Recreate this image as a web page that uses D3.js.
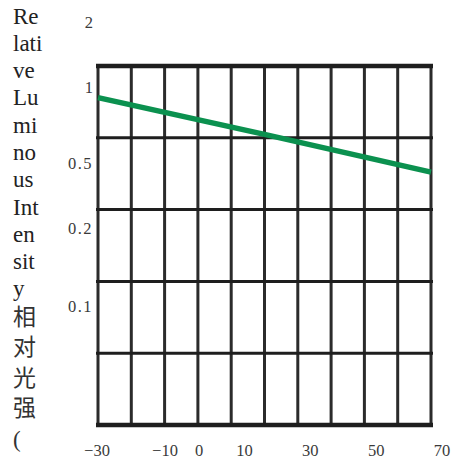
<!DOCTYPE html>
<html>
<head>
<meta charset="utf-8">
<script src="https://cdn.jsdelivr.net/npm/d3@7"></script>
<style>
  html, body { margin: 0; padding: 0; background: #fff; }
  #wrap { position: relative; width: 452px; height: 459px; overflow: hidden; }
  #title {
    position: absolute; left: 13px; top: 2.5px; width: 30px;
    font-family: "Times New Roman", "Liberation Serif", "DejaVu Serif", "Noto Sans CJK SC", serif;
    font-size: 23px; line-height: 27.3px; color: #222;
    word-break: break-all;
  }
  #title .cjk { line-height: 30.5px; color: #333; }
  svg { position: absolute; left: 0; top: 0; }
</style>
</head>
<body>
<div id="wrap">
  <div id="title">Relative Luminous Intensity <span class="cjk">相对光强(</span></div>
</div>
<script>
// axis labels and data
var yTickValues = [2, 1, 0.5, 0.2, 0.1];
var xTickValues = [-30, -10, 0, 10, 30, 50, 70];
var xGridValues = [-30, -20, -10, 0, 10, 20, 30, 40, 50, 60, 70];
var gridRows = [0, 1, 2, 3, 4, 5];

var temperature = [-30, 20, 70];
var intensity = [0.91, 0.65, 0.44];

var width = 452, height = 459;
var plotLeft = 98, plotRight = 431, plotTop = 66, plotBottom = 425;
var tickFont = "'Times New Roman', 'Liberation Serif', 'DejaVu Serif', serif";

var svg = d3.select("#wrap").append("svg")
    .attr("width", width)
    .attr("height", height);

var x = d3.scaleLinear().domain([-30, 70]).range([plotLeft, plotRight]);
// labels in the source sit a bit off the grid, so they get their own scale
var xLab = d3.scaleLinear().domain([-30, 0, 10, 70]).range([97, 199, 244.5, 442]);
var y = d3.scaleLog().domain(yTickValues).range([22.7, 87.3, 163, 228, 306]);
var row = d3.scaleLinear().domain([0, 5]).range([plotTop, plotBottom]);

// vertical grid
svg.append("g")
  .selectAll("line")
  .data(xGridValues)
  .enter().append("line")
    .attr("x1", d => x(d)).attr("x2", d => x(d))
    .attr("y1", plotTop - 2).attr("y2", plotBottom + 2)
    .attr("stroke", "#2b2b2b")
    .attr("stroke-width", 3);

// horizontal grid
svg.append("g")
  .selectAll("line")
  .data(gridRows)
  .enter().append("line")
    .attr("x1", plotLeft - 2).attr("x2", plotRight + 2)
    .attr("y1", d => row(d)).attr("y2", d => row(d))
    .attr("stroke", "#1e1e1e")
    .attr("stroke-width", d => (d == 0 || d == 5) ? 4.5 : 3);

// curve
var line = d3.line()
    .x(d => x(d[0]))
    .y(d => y(d[1]));

svg.append("path")
    .datum(temperature.map((t, i) => [t, intensity[i]]))
    .attr("d", line)
    .attr("fill", "none")
    .attr("stroke", "#0b914f")
    .attr("stroke-width", 5.5);

// y labels
svg.append("g")
  .selectAll("text")
  .data(yTickValues)
  .enter().append("text")
    .attr("x", 93)
    .attr("y", d => y(d))
    .attr("dy", "0.35em")
    .attr("text-anchor", "end")
    .style("font-family", tickFont)
    .attr("font-size", 16.5)
    .attr("letter-spacing", d => d < 1 ? 1.5 : 0)
    .attr("fill", "#3a3a3a")
    .text(d => String(d));

// x labels
svg.append("g")
  .selectAll("text")
  .data(xTickValues)
  .enter().append("text")
    .attr("x", d => xLab(d))
    .attr("y", 450)
    .attr("dy", "0.35em")
    .attr("text-anchor", "middle")
    .style("font-family", tickFont)
    .attr("font-size", 16.5)
    .attr("fill", "#3a3a3a")
    .text(d => d < 0 ? "\u2212" + Math.abs(d) : String(d));
</script>
</body>
</html>
